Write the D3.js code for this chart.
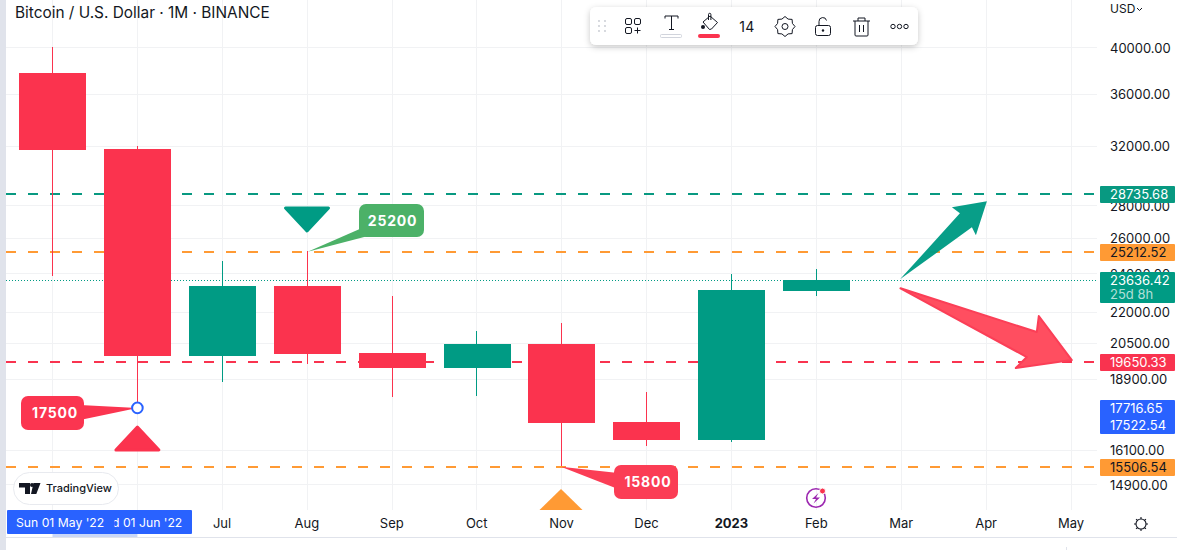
<!DOCTYPE html>
<html><head><meta charset="utf-8">
<script src="https://cdnjs.cloudflare.com/ajax/libs/d3/7.8.5/d3.min.js"></script>
<style>
html,body{margin:0;padding:0;background:#fff;overflow:hidden}
svg{display:block;font-family:Inter,"Noto Sans",sans-serif}
</style></head><body><svg id="c" width="1177" height="550"></svg>
<script>
// ---- data ----
const months = ["May22","Jun22","Jul","Aug","Sep","Oct","Nov","Dec","2023","Feb","Mar","Apr","May"];
const opens  = [37716,31764,19896,23307,20031,19364,20444,17140,16456,23044];
const highs  = [40000,31950,24660,25212,22784,21056,21440,18340,23948,24220];
const lows   = [23841,17716,18760,19540,18136,18176,15506,16236,16400,22784];
const closes = [31693,19896,23307,19990,19364,20444,17100,16456,23097,23636];
const priceTicks = [40000,36000,32000,28000,26000,24000,22000,20500,18900,16100,14900];
const hLines = [
  {price:28735.68,color:"#089981",text:"#fff"},
  {price:25212.52,color:"#ff9a34",text:"#131722"},
  {price:19650.33,color:"#f9334f",text:"#fff"},
  {price:15506.54,color:"#ff9a34",text:"#131722"}
];
const lastPrice = 23636.42, countdown = "25d 8h";
const crossLabels = ["17716.65","17522.54"];
const red="#fb334e", green="#009b84", grid="#f1f2f4", ink="#131722";

const svg = d3.select("#c");
const y = d3.scaleLog().domain([14900,40000]).range([484.5,47.5]);
const x = d3.scalePoint().domain(d3.range(months.length)).range([52.5,1071.3]);
const bodyW = 67;
const plotR = 1097;
const snap = v => Math.floor(v)+.5;

// grid
const gridG = svg.append("g").attr("stroke",grid).attr("stroke-width",1).attr("shape-rendering","crispEdges");
gridG.selectAll(".h").data(priceTicks).join("line").attr("x1",6).attr("x2",plotR).attr("y1",d=>snap(y(d))).attr("y2",d=>snap(y(d)));
gridG.selectAll(".v").data(d3.range(months.length)).join("line").attr("x1",d=>snap(x(d))).attr("x2",d=>snap(x(d))).attr("y1",0).attr("y2",510);

// frame bits
svg.append("rect").attr("x",0).attr("y",0).attr("width",6).attr("height",550).attr("fill","#e0e3eb");
svg.append("rect").attr("x",6).attr("y",537).attr("width",1171).attr("height",1).attr("fill","#e0e3eb");
svg.append("rect").attr("x",1066).attr("y",547).attr("width",1).attr("height",3).attr("fill","#e0e3eb");

// horizontal levels
svg.append("g").selectAll("line").data(hLines).join("line").attr("shape-rendering","crispEdges")
  .attr("x1",6).attr("x2",plotR).attr("y1",d=>Math.round(y(d.price))).attr("y2",d=>Math.round(y(d.price)))
  .attr("stroke",d=>d.color).attr("stroke-width",2).attr("stroke-dasharray","10 12");
svg.append("line").attr("shape-rendering","crispEdges").attr("x1",6).attr("x2",plotR).attr("y1",snap(y(lastPrice))).attr("y2",snap(y(lastPrice)))
  .attr("stroke",green).attr("stroke-dasharray","1 2");

// candles
const idx = d3.range(opens.length);
const col = i => closes[i]>=opens[i]?green:red;
const cg = svg.append("g");
cg.selectAll(".w").data(idx).join("line").attr("shape-rendering","crispEdges")
  .attr("x1",i=>snap(x(i))).attr("x2",i=>snap(x(i)))
  .attr("y1",i=>Math.floor(y(highs[i]))).attr("y2",i=>Math.floor(y(lows[i]))).attr("stroke",col);
cg.selectAll(".b").data(idx).join("rect")
  .attr("x",i=>Math.round(x(i)-bodyW/2+.05)).attr("width",bodyW)
  .attr("y",i=>Math.floor(y(Math.max(opens[i],closes[i]))))
  .attr("height",i=>Math.floor(y(Math.min(opens[i],closes[i])))-Math.floor(y(Math.max(opens[i],closes[i])))).attr("fill",col);

// arrows (anchored on bar index and price)
const P=(i,p,dx=0,dy=0)=>[x(i)+dx,y(p)+dy];
const lineClosed=d3.line().curve(d3.curveLinearClosed);
const tailG=P(10,lastPrice,-1.5,-1), tipG=P(11,28735.68,0.5,7.5);
svg.append("path").attr("d",lineClosed([tailG,[tipG[0]-15,tipG[1]+26],[tipG[0]-11,tipG[1]+34],tipG,[tipG[0]-35,tipG[1]+6],[tipG[0]-27,tipG[1]+12]]))
  .attr("fill",green).attr("fill-opacity",.97);
const tailR=P(10,lastPrice,-1,8), tipR=P(12,19650.33,0.5,-2);
svg.append("path").attr("d",lineClosed([tailR,[tipR[0]-35,tipR[1]-28],[tipR[0]-33,tipR[1]-44],tipR,[tipR[0]-56,tipR[1]+8],[tipR[0]-45,tipR[1]-3]]))
  .attr("fill","#ff4e60").attr("stroke","#fb3f57").attr("stroke-width",2).attr("stroke-linejoin","round");

// triangles
function tri(cx,yA,yB,hw,fill){
  svg.append("path").attr("d",`M${cx} ${yA}L${cx+hw} ${yB}L${cx-hw} ${yB}Z`).attr("fill",fill).attr("stroke",fill).attr("stroke-width",3).attr("stroke-linejoin","round");
}
tri(x(1),427,450,21.5,red);
tri(x(3)-.2,231,208,21.5,green);
svg.append("path").attr("d",`M${x(6)-.9} 489L${x(6)+20.6} 510L${x(6)-22.4} 510Z`).attr("fill","#ff9a34");

// callouts
function callout(label,rx,ry,rw,rh,tip,b1,b2,fill,dx){
  svg.append("path").attr("d",`M${b1[0]} ${b1[1]}L${tip[0]} ${tip[1]}L${b2[0]} ${b2[1]}Z`).attr("fill",fill);
  svg.append("rect").attr("x",rx).attr("y",ry).attr("width",rw).attr("height",rh).attr("rx",7).attr("fill",fill);
  svg.append("text").attr("x",rx+rw/2+dx).attr("y",ry+rh/2+5).attr("text-anchor","middle").attr("fill","#fff")
    .attr("font-size",14).attr("font-weight",700).attr("letter-spacing",.8).text(label);
}
callout("17500",21,396,63,34,P(1,17716.65,0,0),[80,405],[80,420],"#fb3550",2.5);
callout("25200",359,204,65,33,P(3,25212.52,0.5,0),[362,228],[368,236],"#4cb168",1);
callout("15800",614,465,64,34,P(6,15506.54,-1,0),[618,473],[618,489],"#fb3d55",2);
svg.append("circle").attr("cx",x(1)).attr("cy",y(17716.65)).attr("r",5.3).attr("fill","#fff").attr("stroke","#2962ff").attr("stroke-width",2);

// price axis
const yAxis=d3.axisRight(y).tickValues(priceTicks).tickSize(0).tickPadding(0).tickFormat(d3.format(".2f"));
const ya=svg.append("g").attr("transform","translate(1110,0.5)").call(yAxis);
ya.select(".domain").remove();
ya.selectAll("text").attr("font-size",13).attr("font-family","Inter").attr("fill",ink);

// price labels
const lab=svg.append("g").attr("font-size",13);
hLines.forEach(d=>{
  const c=Math.round(y(d.price));
  lab.append("rect").attr("x",1100).attr("y",c-8).attr("width",75).attr("height",17).attr("rx",1).attr("fill",d.color);
  lab.append("text").attr("x",1110).attr("y",c+5).attr("fill",d.text).text(d.price.toFixed(2));
});
lab.append("rect").attr("x",1100).attr("y",272).attr("width",75).attr("height",31).attr("rx",1).attr("fill",green);
lab.append("text").attr("x",1110).attr("y",285).attr("fill","#fff").text(lastPrice.toFixed(2));
lab.append("text").attr("x",1110).attr("y",299).attr("fill","#fff").attr("fill-opacity",.7).text(countdown);
lab.append("rect").attr("x",1100).attr("y",400).attr("width",75).attr("height",34).attr("rx",1).attr("fill","#2962ff");
crossLabels.forEach((t,i)=>lab.append("text").attr("x",1110).attr("y",413+i*17).attr("fill","#fff").text(t));

// time axis
const xAxis=d3.axisBottom(x).tickValues(d3.range(2,months.length)).tickSize(0).tickPadding(0).tickFormat(i=>months[i]);
const xa=svg.append("g").attr("transform","translate(-0.8,519)").call(xAxis);
xa.select(".domain").remove();
xa.selectAll("text").attr("font-size",13).attr("font-family","Inter").attr("fill",ink).attr("font-weight",i=>months[i]==="2023"?700:400);
svg.append("rect").attr("x",x(0)).attr("y",534).attr("width",x(1)-x(0)).attr("height",3).attr("fill","#c9d7f8");
svg.append("rect").attr("x",7).attr("y",510).attr("width",185).attr("height",24).attr("rx",1).attr("fill","#2962ff");
svg.append("text").attr("x",16).attr("y",527).attr("font-size",12.2).attr("fill","#fff").text("Sun 01 May '22");
const defs=svg.append("defs");
defs.append("clipPath").attr("id","dc").append("rect").attr("x",114.5).attr("y",510).attr("width",78).attr("height",24);
svg.append("text").attr("x",112).attr("y",527).attr("font-size",12.2).attr("fill","#fff").attr("clip-path","url(#dc)").text("d 01 Jun '22");

// title and corner
svg.append("text").attr("x",15).attr("y",18).attr("font-size",15.4).attr("fill",ink).text("Bitcoin / U.S. Dollar · 1M · BINANCE");
svg.append("text").attr("x",1110).attr("y",13).attr("font-size",12).attr("fill",ink).text("USD");
svg.append("path").attr("d","M1137 8l2.5 2.5L1142 8").attr("fill","none").attr("stroke",ink);

// TradingView badge
const tv=svg.append("g");
tv.append("rect").attr("x",13.5).attr("y",472.5).attr("width",105).attr("height",32).attr("rx",16).attr("fill","#fff").attr("stroke","#e8eaef");
tv.append("path").attr("d","M19 483h11v11h-5v-6.5h-6zM33.5 483h7l-4.2 11h-5.3z").attr("fill",ink);
tv.append("circle").attr("cx",32).attr("cy",485).attr("r",2).attr("fill",ink);
tv.append("text").attr("x",46).attr("y",492).attr("font-size",11).attr("font-weight",500).attr("fill",ink).text("TradingView");

// lightning icon
const li=svg.append("g").attr("transform","translate(816,498)");
li.append("circle").attr("r",9.3).attr("fill","none").attr("stroke","#9c27b0").attr("stroke-width",1.6);
li.append("path").attr("d","M2.5 -5L-4 1H0L-2.5 5.5L4 -.5H0Z").attr("fill","#9c27b0");
li.append("circle").attr("cx",6.5).attr("cy",-7).attr("r",3).attr("fill","#f9334f").attr("stroke","#fff");

// theme toggle
const sun=svg.append("g").attr("transform","translate(1141,524)").attr("fill","none").attr("stroke",ink).attr("stroke-width",1.1);
sun.append("circle").attr("r",5);
d3.range(8).forEach(i=>{const a=i*Math.PI/4;sun.append("line").attr("x1",5*Math.cos(a)).attr("y1",5*Math.sin(a)).attr("x2",7*Math.cos(a)).attr("y2",7*Math.sin(a));});

// toolbar
const f=defs.append("filter").attr("id","sh").attr("x","-5%").attr("y","-30%").attr("width","110%").attr("height","170%");
f.append("feDropShadow").attr("dx",0).attr("dy",2).attr("stdDeviation",3).attr("flood-color","#000").attr("flood-opacity",.22);
const tb=svg.append("g");
tb.append("rect").attr("x",590).attr("y",7).attr("width",328).attr("height",38).attr("rx",6).attr("fill","#fff").attr("filter","url(#sh)");
const ic=tb.append("g").attr("fill","none").attr("stroke",ink).attr("stroke-width",1);
d3.range(3).forEach(r=>d3.range(2).forEach(c=>tb.append("circle").attr("cx",599+c*6).attr("cy",21+r*5).attr("r",.9).attr("fill","#c5c8d0")));
// widgets icon
ic.append("rect").attr("x",625.5).attr("y",18.5).attr("width",6).attr("height",6).attr("rx",1.5);
ic.append("rect").attr("x",634.5).attr("y",18.5).attr("width",6).attr("height",6).attr("rx",1.5);
ic.append("rect").attr("x",625.5).attr("y",27.5).attr("width",6).attr("height",6).attr("rx",1.5);
ic.append("path").attr("d","M637.5 27.5v6M634.5 30.5h6");
// T
ic.append("path").attr("d","M665 18.5v-2.5h13v2.5M671.5 16v13.5M669 29.5h5");
tb.append("rect").attr("x",660.5).attr("y",34.5).attr("width",21).attr("height",3).attr("rx",1).attr("fill","#fff").attr("stroke","#d1d4dc");
// bucket
ic.append("path").attr("d","M703 22l7-6 7.5 6.5-6 6.5-2 .5zM708.5 20V14.5a1.2 1.2 0 0 1 2.4 0V20");
tb.append("circle").attr("cx",703).attr("cy",27).attr("r",2).attr("fill",ink);
tb.append("rect").attr("x",698).attr("y",34).attr("width",22).attr("height",4).attr("rx",2).attr("fill",red);
tb.append("text").attr("x",747).attr("y",32).attr("text-anchor","middle").attr("font-size",14).attr("letter-spacing",.5).attr("fill",ink).text("14");
// gear
const g=ic.append("g").attr("transform","translate(785,26.5)");
g.append("circle").attr("r",3);
g.append("path").attr("d",d3.range(16).map(i=>{const a=i*Math.PI/8;const r=(i%2?8:10);return (i?"L":"M")+(r*Math.cos(a)).toFixed(1)+" "+(r*Math.sin(a)).toFixed(1);}).join("")+"Z").attr("stroke-linejoin","round");
// lock
ic.append("rect").attr("x",815.5).attr("y",25.5).attr("width",15).attr("height",10).attr("rx",2);
ic.append("path").attr("d","M819 25.5v-4a3.8 3.8 0 0 1 7.5-1");
tb.append("circle").attr("cx",823).attr("cy",30.5).attr("r",1.2).attr("fill",ink);
// trash
ic.append("path").attr("d","M853 21h17M855 21v14a1 1 0 0 0 1 1h11a1 1 0 0 0 1-1V21M858 21v-3h7v3M859.5 25v7M863.5 25v7");
// more
[893,899.5,906].forEach(cx=>ic.append("circle").attr("cx",cx).attr("cy",26.5).attr("r",2.2));
</script></body></html>
